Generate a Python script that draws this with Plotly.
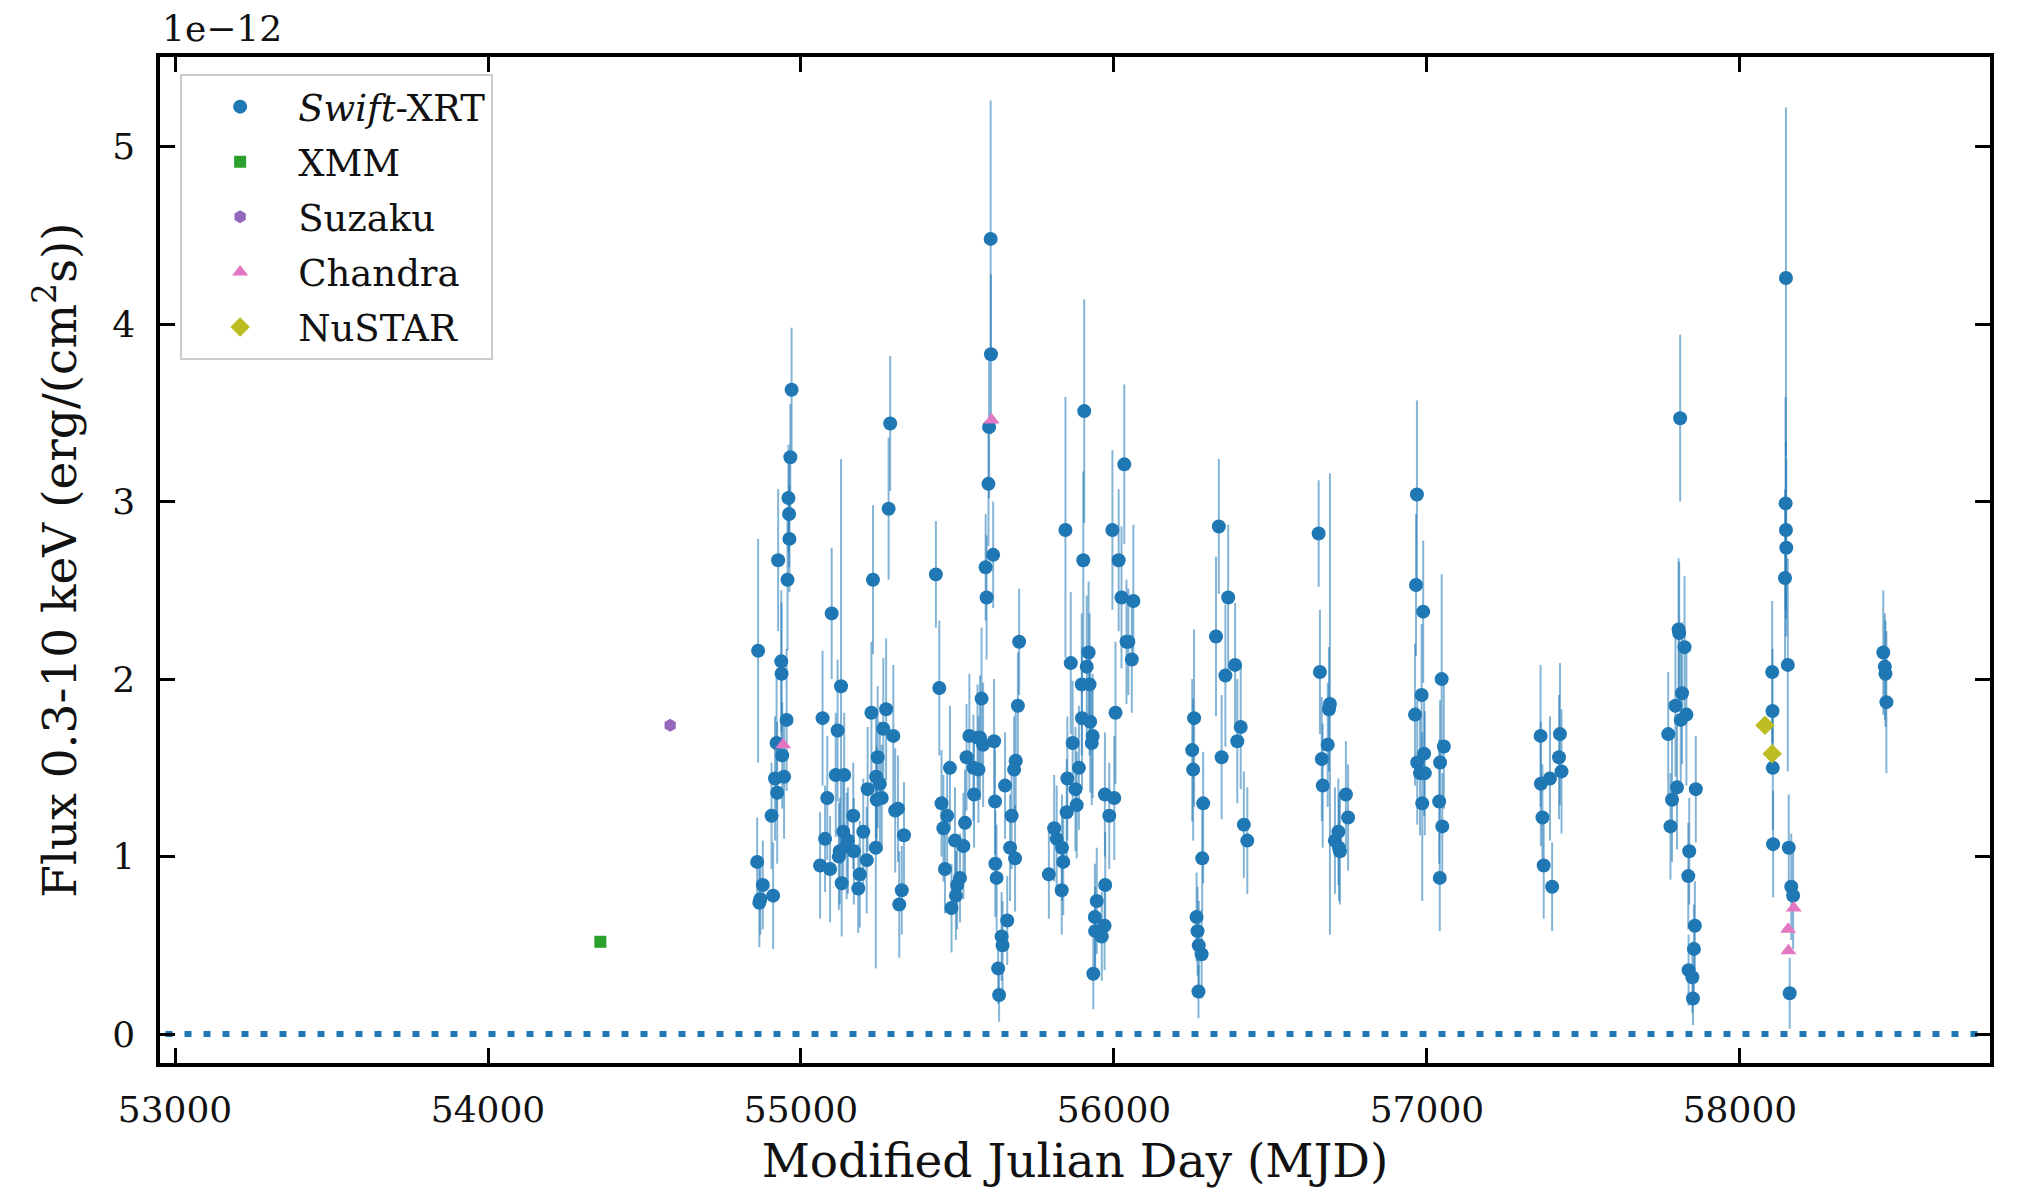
import plotly.graph_objects as go

# ---------------- data (flux in units of 1e-12 erg/(cm^2 s)) ----------------
swift_mjd = [
    54970, 54966, 54960, 54962, 54963, 54927, 54957, 54863, 54937, 54938, 54954, 54922,
    54940, 54917, 54946, 54924, 54906, 54860, 54878, 54867, 54911, 54870,
    55285, 55280, 55230, 55098, 55128, 55069, 55225, 55272, 55117, 55263, 55295, 55245,
    55111, 55138, 55240, 55213, 55252, 55258, 55242, 55084, 55301, 55310, 55167, 55329,
    55199, 55135, 55077, 55239, 55146, 55124, 55169, 55061, 55093, 55210, 55130, 55188,
    55183, 55322, 55314, 55121, 55150,
    55431, 55442, 55476, 55449, 55467, 55455, 55492, 55519, 55460, 55508, 55499, 55495,
    55481, 55524, 55538, 55572, 55617, 55529, 55551, 55567, 55553, 55577, 55582, 55606,
    55607, 55601, 55599, 55614, 55590, 55593, 55697, 55693, 55686, 55681, 55652, 55620,
    55673, 55668, 55684, 55621, 55625, 55659, 55641, 55644, 55630, 55633, 55564,
    55905, 55845, 55902, 55862, 55919, 55913, 55897, 55922, 55898, 55924, 55932, 55929,
    55868, 55888, 55851, 55877, 55881, 55849, 55809, 55817, 55838, 55792, 55833, 55834,
    56033, 55995, 56015, 56024, 56040, 56005, 55971, 56001, 55985, 55972, 55945, 55939,
    55970, 55940, 55961, 55934, 56062, 56046, 56057,
    56256, 56250, 56253, 56285, 56282, 56264, 56267, 56271, 56280, 56270, 56335, 56365,
    56326, 56356, 56387, 56344, 56405, 56394, 56415, 56426,
    56654, 56658, 56690, 56687, 56683, 56664, 56667, 56741, 56748, 56717, 56706, 56722,
    56719,
    56968, 56965, 56988, 56983, 56962, 57047, 57054, 57042, 56991, 56969, 56978, 56993,
    56985, 57039, 57049, 57041,
    57363, 57425, 57422, 57430, 57393, 57364, 57369, 57373, 57400,
    57809, 57804, 57806, 57823, 57815, 57794, 57829, 57811, 57771, 57799, 57783, 57778,
    57859, 57838, 57835, 57856, 57853, 57836, 57848, 57850,
    58147, 58146, 58147, 58148, 58144, 58153, 58103, 58104, 58105, 58106, 58156, 58164,
    58170, 58159,
    58458, 58463, 58465, 58468,
]
swift_flux = [
    3.63, 3.25, 3.02, 2.93, 2.79, 2.67, 2.56, 2.16, 2.10, 2.03, 1.77, 1.64,
    1.57, 1.44, 1.45, 1.36, 1.23, 0.97, 0.84, 0.74, 0.78, 0.76,
    3.44, 2.96, 2.56, 2.37, 1.96, 1.78, 1.81, 1.83, 1.71, 1.72, 1.68, 1.56,
    1.46, 1.46, 1.45, 1.38, 1.41, 1.33, 1.32, 1.33, 1.26, 1.27, 1.23, 1.12,
    1.14, 1.14, 1.10, 1.05, 1.06, 1.03, 1.03, 0.95, 0.93, 0.98, 0.85, 0.90,
    0.82, 0.81, 0.73, 1.00, 1.09,
    2.59, 1.95, 1.50, 1.30, 1.23, 1.16, 1.09, 1.06, 0.93, 0.88, 0.84, 0.78,
    0.71, 1.19, 1.68, 1.67, 1.65, 1.56, 1.50, 1.49, 1.35, 1.89, 1.63, 4.48,
    3.83, 3.42, 3.10, 2.70, 2.63, 2.46, 2.21, 1.85, 1.54, 1.49, 1.40, 1.31,
    1.23, 1.05, 0.99, 0.96, 0.88, 0.64, 0.55, 0.50, 0.37, 0.22, 1.67,
    3.51, 2.84, 2.67, 2.09, 2.15, 2.07, 1.97, 1.97, 1.78, 1.76, 1.68, 1.64,
    1.64, 1.50, 1.44, 1.38, 1.29, 1.25, 1.16, 1.10, 0.97, 0.90, 0.81, 1.05,
    3.21, 2.84, 2.67, 2.46, 2.21, 1.81, 1.35, 1.33, 1.23, 0.84, 0.75, 0.66,
    0.61, 0.58, 0.55, 0.34, 2.44, 2.21, 2.11,
    1.78, 1.60, 1.49, 1.30, 0.99, 0.66, 0.58, 0.50, 0.45, 0.24, 2.86, 2.46,
    2.24, 2.02, 2.08, 1.56, 1.73, 1.65, 1.18, 1.09,
    2.82, 2.04, 1.86, 1.83, 1.63, 1.55, 1.40, 1.35, 1.22, 1.14, 1.09, 1.03,
    1.05,
    3.04, 2.53, 2.38, 1.91, 1.80, 2.00, 1.62, 1.53, 1.58, 1.53, 1.47, 1.47,
    1.30, 1.31, 1.17, 0.88,
    1.68, 1.69, 1.56, 1.48, 1.44, 1.41, 1.22, 0.95, 0.83,
    3.47, 2.28, 2.26, 2.18, 1.92, 1.85, 1.80, 1.77, 1.69, 1.39, 1.32, 1.17,
    1.38, 1.03, 0.89, 0.61, 0.48, 0.36, 0.32, 0.20,
    4.26, 2.99, 2.84, 2.74, 2.57, 2.08, 2.04, 1.82, 1.50, 1.07, 1.05, 0.83,
    0.78, 0.23,
    2.15, 2.07, 2.03, 1.87,
]
swift_err_up = [
    0.35, 0.30, 0.30, 0.30, 0.30, 0.40, 0.40, 0.63, 0.40, 0.40, 0.40, 0.40,
    0.30, 0.35, 0.35, 0.40, 0.30, 0.25, 0.25, 0.25, 0.30, 0.20,
    0.38, 0.40, 0.42, 0.37, 1.28, 0.38, 0.40, 0.40, 0.40, 0.40, 0.40, 0.40,
    0.35, 0.35, 0.35, 0.35, 0.35, 0.30, 0.30, 0.35, 0.35, 0.30, 0.30, 0.30,
    0.30, 0.30, 0.30, 0.40, 0.30, 0.30, 0.30, 0.30, 0.30, 0.30, 0.30, 0.30,
    0.25, 0.25, 0.30, 0.30, 0.30,
    0.30, 0.38, 0.35, 0.30, 0.30, 0.30, 0.30, 0.30, 0.25, 0.25, 0.25, 0.25,
    0.25, 0.30, 0.35, 0.35, 0.35, 0.30, 0.30, 0.30, 0.30, 0.40, 0.35, 0.78,
    0.45, 0.40, 0.35, 0.30, 0.30, 0.35, 0.30, 0.30, 0.30, 0.30, 0.30, 0.30,
    0.30, 0.30, 0.30, 0.30, 0.30, 0.25, 0.25, 0.25, 0.20, 0.15, 0.30,
    0.63, 0.75, 0.50, 0.40, 0.40, 0.40, 0.40, 0.40, 0.40, 0.40, 0.35, 0.35,
    0.35, 0.35, 0.35, 0.35, 0.30, 0.30, 0.30, 0.30, 0.30, 0.25, 0.25, 0.30,
    0.45, 0.45, 0.40, 0.40, 0.35, 0.40, 0.35, 0.35, 0.30, 0.30, 0.30, 0.30,
    0.25, 0.25, 0.25, 0.20, 0.43, 0.30, 0.30,
    0.50, 0.40, 0.40, 0.29, 0.30, 0.25, 0.25, 0.25, 0.25, 0.15, 0.38, 0.41,
    0.45, 0.40, 0.35, 0.35, 0.35, 0.35, 0.30, 0.30,
    0.30, 0.35, 1.30, 0.35, 0.35, 0.35, 0.35, 0.30, 0.30, 0.30, 0.30, 0.30,
    0.30,
    0.53, 0.40, 0.40, 0.40, 0.40, 0.59, 0.35, 0.35, 0.35, 0.35, 0.35, 0.35,
    0.40, 0.35, 0.30, 0.30,
    0.40, 0.40, 0.35, 0.35, 0.35, 0.35, 0.30, 0.30, 0.25,
    0.47, 0.40, 0.40, 0.40, 0.40, 0.40, 0.40, 0.40, 0.35, 0.35, 0.35, 0.30,
    0.30, 0.30, 0.30, 0.25, 0.25, 0.20, 0.20, 0.15,
    0.96, 0.60, 0.50, 0.50, 0.50, 0.60, 0.40, 0.35, 0.35, 0.30, 0.30, 0.30,
    0.30, 0.20,
    0.35, 0.30, 0.30, 0.40,
]
swift_err_lo = [
    0.35, 0.30, 0.30, 0.30, 0.30, 0.40, 0.40, 0.63, 0.40, 0.40, 0.40, 0.40,
    0.30, 0.35, 0.35, 0.40, 0.30, 0.25, 0.25, 0.25, 0.30, 0.20,
    0.38, 0.40, 0.42, 0.37, 1.00, 0.38, 0.40, 0.40, 0.40, 0.40, 0.40, 0.40,
    0.35, 0.35, 0.35, 0.35, 0.35, 0.30, 0.30, 0.35, 0.35, 0.30, 0.30, 0.30,
    0.30, 0.30, 0.30, 0.68, 0.30, 0.30, 0.30, 0.30, 0.30, 0.30, 0.30, 0.30,
    0.25, 0.25, 0.30, 0.30, 0.30,
    0.30, 0.38, 0.35, 0.30, 0.30, 0.30, 0.30, 0.30, 0.25, 0.25, 0.25, 0.25,
    0.25, 0.30, 0.35, 0.35, 0.35, 0.30, 0.30, 0.30, 0.30, 0.40, 0.35, 0.65,
    0.45, 0.40, 0.35, 0.30, 0.30, 0.35, 0.30, 0.30, 0.30, 0.30, 0.30, 0.30,
    0.30, 0.30, 0.30, 0.30, 0.30, 0.25, 0.25, 0.25, 0.20, 0.15, 0.30,
    0.63, 0.72, 0.50, 0.40, 0.40, 0.40, 0.40, 0.40, 0.40, 0.40, 0.35, 0.35,
    0.35, 0.35, 0.35, 0.35, 0.30, 0.30, 0.30, 0.30, 0.30, 0.25, 0.25, 0.30,
    0.45, 0.45, 0.40, 0.40, 0.35, 0.40, 0.35, 0.35, 0.30, 0.30, 0.30, 0.30,
    0.25, 0.25, 0.25, 0.20, 0.30, 0.30, 0.30,
    0.50, 0.40, 0.40, 0.45, 0.30, 0.25, 0.25, 0.25, 0.25, 0.15, 0.38, 0.41,
    0.45, 0.40, 0.35, 0.35, 0.35, 0.35, 0.30, 0.30,
    0.30, 0.35, 1.30, 0.35, 0.35, 0.35, 0.35, 0.30, 0.30, 0.30, 0.30, 0.30,
    0.30,
    0.53, 0.40, 0.40, 0.40, 0.40, 0.45, 0.35, 0.35, 0.35, 0.35, 0.35, 0.35,
    0.55, 0.35, 0.30, 0.30,
    0.40, 0.40, 0.35, 0.35, 0.35, 0.35, 0.30, 0.30, 0.25,
    0.47, 0.40, 0.40, 0.40, 0.40, 0.40, 0.40, 0.40, 0.35, 0.35, 0.35, 0.30,
    0.30, 0.30, 0.30, 0.25, 0.25, 0.20, 0.20, 0.15,
    1.00, 0.60, 0.50, 0.50, 0.50, 0.60, 0.40, 0.35, 0.35, 0.30, 0.30, 0.30,
    0.30, 0.20,
    0.35, 0.30, 0.30, 0.40,
]

xmm_mjd = [54359]
xmm_flux = [0.52]
suzaku_mjd = [54582]
suzaku_flux = [1.74]
chandra_mjd = [54943, 55609, 58172, 58154, 58155]
chandra_flux = [1.63, 3.46, 0.71, 0.59, 0.47]
nustar_mjd = [58080, 58103]
nustar_flux = [1.74, 1.58]

x_ticks = [53000, 54000, 55000, 56000, 57000, 58000]
y_ticks = [0, 1, 2, 3, 4, 5]

# ---------------- figure ----------------
FONT = "DejaVu Serif"
BLUE = "#1f77b4"
TXT = "#111111"

fig = go.Figure()

fig.add_trace(go.Scatter(
    x=swift_mjd, y=swift_flux, mode="markers", name="<i>Swift</i>-XRT", legendgroup="g1",
    marker=dict(symbol="circle", size=14, color=BLUE),
    error_y=dict(type="data", symmetric=False, array=swift_err_up,
                 arrayminus=swift_err_lo, color="rgba(31,119,180,0.55)",
                 thickness=2, width=0),
))
fig.add_trace(go.Scatter(
    x=xmm_mjd, y=xmm_flux, mode="markers", name="XMM", legendgroup="g2",
    marker=dict(symbol="square", size=12, color="#2ca02c"),
))
fig.add_trace(go.Scatter(
    x=suzaku_mjd, y=suzaku_flux, mode="markers", name="Suzaku", legendgroup="g3",
    marker=dict(symbol="hexagon", size=13, color="#9467bd"),
))
fig.add_trace(go.Scatter(
    x=chandra_mjd, y=chandra_flux, mode="markers", name="Chandra", legendgroup="g4",
    marker=dict(symbol="triangle-up", size=14, color="#e377c2"),
))
fig.add_trace(go.Scatter(
    x=nustar_mjd, y=nustar_flux, mode="markers", name="NuSTAR", legendgroup="g5",
    marker=dict(symbol="diamond", size=15, color="#bcbd22"),
))

# dotted zero line
fig.add_shape(type="line", xref="paper", yref="y", x0=0.003, x1=0.997, y0=0, y1=0,
              line=dict(color=BLUE, width=6, dash="7px,12px"), layer="below")

axis_common = dict(
    showline=True, linecolor="black", linewidth=3.5, mirror="ticks",
    ticks="inside", ticklen=15, tickwidth=2.5, tickcolor="black",
    showgrid=False, zeroline=False,
    tickfont=dict(family=FONT, size=36, color=TXT),
)

fig.update_xaxes(
    range=[52952, 58799], tickvals=x_ticks, ticktext=[str(v) for v in x_ticks],
    title=dict(text="Modified Julian Day (MJD)", font=dict(family=FONT, size=47, color=TXT),
               standoff=16),
    ticklabelstandoff=12,
    **axis_common,
)
fig.update_yaxes(
    range=[-0.163, 5.505], tickvals=y_ticks, ticktext=[str(v) for v in y_ticks],
    title=dict(text="Flux 0.3-10 keV (erg/(cm<sup>2</sup>s))",
               font=dict(family=FONT, size=47, color=TXT), standoff=22),
    ticklabelstandoff=14,
    **axis_common,
)

fig.add_annotation(text="1e\u221212", xref="paper", yref="paper", x=0, y=1,
                   xanchor="left", yanchor="bottom", yshift=6, xshift=0, showarrow=False,
                   font=dict(family=FONT, size=36, color=TXT))

fig.update_layout(
    width=2029, height=1191,
    margin=dict(l=160, r=39, t=57, b=124),
    paper_bgcolor="white", plot_bgcolor="white",
    showlegend=True,
    legend=dict(x=0.011, y=0.983, xanchor="left", yanchor="top",
                bgcolor="rgba(255,255,255,0.85)", bordercolor="#cccccc", borderwidth=2,
                font=dict(family=FONT, size=37, color=TXT),
                itemsizing="trace", itemwidth=106, tracegroupgap=4,
                traceorder="grouped"),
)

fig.write_html("out.html")
